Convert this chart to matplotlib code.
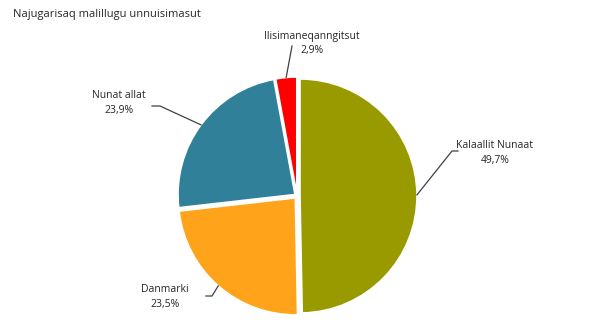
import numpy as np
import matplotlib.pyplot as plt

plt.rcParams['font.family'] = ['Open Sans', 'DejaVu Sans']

# data
labels = ["Kalaallit Nunaat", "Danmarki", "Nunat allat", "Ilisimaneqanngitsut"]
values = [49.7, 23.5, 23.9, 2.9]
pct_labels = ["49,7%", "23,5%", "23,9%", "2,9%"]
colors = ["#999900", "#ffa31a", "#31809a", "#ff0000"]
title = "Najugarisaq malillugu unnuisimasut"

W, H = 614, 332
fig = plt.figure(figsize=(W / 100, H / 100), dpi=100)
ax = fig.add_axes([0, 0, 1, 1])

cx, cy, r = 297, H - 196, 117
# explode is in data units (pixels here)
explode = [3, 2.5, 2.5, 2]
wedges, _ = ax.pie(values, colors=colors, startangle=90, counterclock=False,
                   center=(cx, cy), radius=r, explode=explode,
                   wedgeprops=dict(edgecolor='white', linewidth=1.2),
                   frame=True)
ax.set_xlim(0, W)
ax.set_ylim(0, H)
ax.set_aspect('equal')
ax.axis('off')

# label positions (pixels, top-left origin) and leader elbows
text_pos = [(495, 152), (165, 296), (119, 103), (312, 43)]
elbow = [(452, 151), (212, 296), (160, 106), (292, 46)]
tail = [6, -6, -8, 0]

for i, w in enumerate(wedges):
    ang = np.deg2rad((w.theta1 + w.theta2) / 2)
    wc = w.center
    sx = wc[0] + w.r * np.cos(ang)
    sy = wc[1] + w.r * np.sin(ang)
    ex, ey = elbow[i][0], H - elbow[i][1]
    xs, ys = [sx, ex], [sy, ey]
    if tail[i]:
        xs.append(ex + tail[i])
        ys.append(ey)
    ax.plot(xs, ys, color='#404040', lw=0.9)
    tx, ty = text_pos[i][0], H - text_pos[i][1]
    ax.text(tx, ty + 7, labels[i], ha='center', va='center', fontsize=7.5, color='#262626')
    ax.text(tx, ty - 8, pct_labels[i], ha='center', va='center', fontsize=7.5, color='#262626')

ax.text(13, H - 15, title, ha='left', va='center', fontsize=8, color='#262626')

fig.savefig("out.png", dpi=100)
